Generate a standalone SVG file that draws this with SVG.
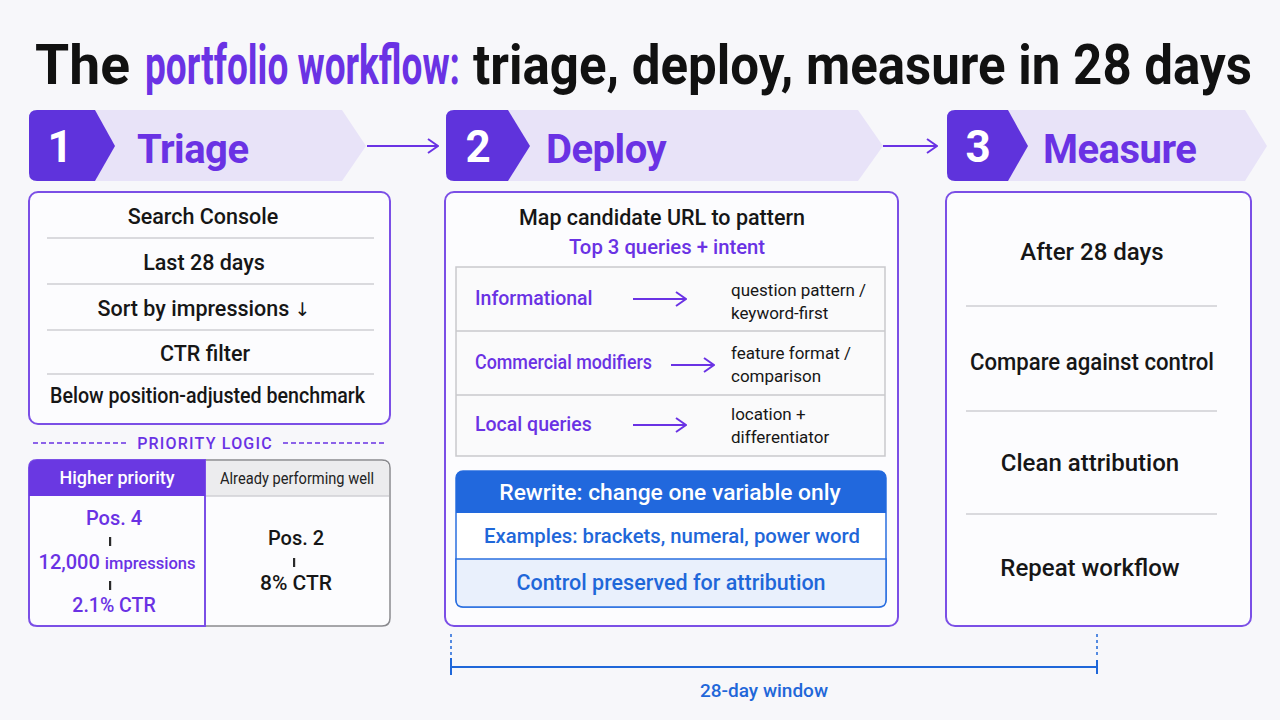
<svg xmlns="http://www.w3.org/2000/svg" width="1280" height="720" viewBox="0 0 1280 720">
<defs>
<style>
text{font-family:Roboto,"Liberation Sans",sans-serif}
.title{font-size:56px;font-weight:700;fill:#111}
.pur{fill:#6a32e4}
.num{font-size:44px;font-weight:700;fill:#fff}
.step{font-size:40px;font-weight:700;fill:#6a32e4;letter-spacing:-0.5px}
.dark{fill:#5f33dc}
.light{fill:#e8e3f8}
.box{fill:#fcfcfe;stroke:#7b4fe6;stroke-width:2}
.sep{stroke:#cfcfd3;stroke-width:1.5}
.t20{font-size:21.5px;font-weight:500;fill:#161616}
.t24{font-size:24px;font-weight:500;fill:#161616}
.arrow{stroke:#6a32e4;stroke-width:2;fill:none}
.blue{fill:#1f67d9}
.bar{fill:#2a2a2a}
</style>
<marker id="ah" viewBox="0 0 12 16" refX="11" refY="8" markerWidth="12" markerHeight="16" markerUnits="userSpaceOnUse" orient="auto">
<path d="M1,1 L11,8 L1,15" fill="none" stroke="#6a32e4" stroke-width="2"/>
</marker>
</defs>
<rect width="1280" height="720" fill="#f7f7fa"/>

<g id="title">
<text transform="translate(35,84) scale(0.9,1)" class="title" textLength="105.5" lengthAdjust="spacingAndGlyphs">The</text>
<text transform="translate(145,84) scale(0.75,1)" class="title pur" font-weight="800" textLength="420" lengthAdjust="spacingAndGlyphs">portfolio workflow:</text>
<text transform="translate(473,84) scale(0.9,1)" class="title" textLength="865.5" lengthAdjust="spacingAndGlyphs">triage, deploy, measure in 28 days</text>
</g>

<g id="step1">
<polygon class="light" points="90,110 342,110 366,146 342,181 90,181"/>
<path class="dark" d="M37,110 L95,110 L115,146 L95,181 L37,181 Q29,181 29,173 L29,118 Q29,110 37,110 Z"/>
<text x="60" y="162" text-anchor="middle" class="num">1</text>
<text x="137" y="163" class="step">Triage</text>
</g>
<g id="step2">
<polygon class="light" points="500,110 858,110 883,146 858,181 500,181"/>
<path class="dark" d="M454,110 L508,110 L530,146 L508,181 L454,181 Q446,181 446,173 L446,118 Q446,110 454,110 Z"/>
<text x="478" y="162" text-anchor="middle" class="num">2</text>
<text x="546" y="163" class="step">Deploy</text>
</g>
<g id="step3">
<polygon class="light" points="1000,110 1245,110 1267,146 1245,181 1000,181"/>
<path class="dark" d="M955,110 L1008,110 L1028,146 L1008,181 L955,181 Q947,181 947,173 L947,118 Q947,110 955,110 Z"/>
<text x="978" y="162" text-anchor="middle" class="num">3</text>
<text x="1043" y="163" class="step">Measure</text>
</g>

<g id="connectors">
<line x1="367" y1="146" x2="438" y2="146" class="arrow" marker-end="url(#ah)"/>
<line x1="883" y1="146" x2="937" y2="146" class="arrow" marker-end="url(#ah)"/>
</g>

<g id="triage-box">
<rect x="29" y="192" width="361" height="232" rx="9" class="box"/>
<line x1="47" y1="238" x2="374" y2="238" class="sep"/>
<line x1="47" y1="284" x2="374" y2="284" class="sep"/>
<line x1="47" y1="330" x2="374" y2="330" class="sep"/>
<line x1="47" y1="374" x2="374" y2="374" class="sep"/>
<text x="203" y="224" text-anchor="middle" class="t20">Search Console</text>
<text x="204" y="270" text-anchor="middle" class="t20">Last 28 days</text>
<text x="204" y="316" text-anchor="middle" class="t20">Sort by impressions <tspan font-family="'DejaVu Sans',sans-serif" font-weight="400" font-size="19">↓</tspan></text>
<text x="205" y="361" text-anchor="middle" class="t20">CTR filter</text>
<text x="50" y="403" class="t20" font-size="20" textLength="315" lengthAdjust="spacingAndGlyphs">Below position-adjusted benchmark</text>
</g>

<g id="priority-logic">
<line x1="33" y1="443" x2="128" y2="443" stroke="#6a32e4" stroke-width="1.5" stroke-dasharray="5,3"/>
<line x1="283" y1="443" x2="386" y2="443" stroke="#6a32e4" stroke-width="1.5" stroke-dasharray="5,3"/>
<text x="205" y="449" text-anchor="middle" font-size="16" font-weight="500" letter-spacing="1.2" class="pur">PRIORITY LOGIC</text>
</g>

<g id="priority-table">
<path d="M205,460 L382,460 Q390,460 390,468 L390,618 Q390,626 382,626 L205,626 Z" fill="#fcfcfe" stroke="#8a8a8e" stroke-width="1.5"/>
<path d="M206,461 L382,461 Q389,461 389,468 L389,496 L206,496 Z" fill="#ececee"/>
<line x1="206" y1="496" x2="389" y2="496" stroke="#d0d0d4" stroke-width="1.5"/>
<path d="M205,460 L37,460 Q29,460 29,468 L29,618 Q29,626 37,626 L205,626 Z" fill="#fcfcfe" stroke="#7b4fe6" stroke-width="2"/>
<path d="M205,460 L37,460 Q29,460 29,468 L29,496 L205,496 Z" fill="#6a38e2"/>
<text x="117" y="484" text-anchor="middle" font-size="18" font-weight="500" fill="#fff">Higher priority</text>
<text x="220" y="484" font-size="16" font-weight="400" fill="#222" textLength="154" lengthAdjust="spacingAndGlyphs">Already performing well</text>
<text x="114" y="525" text-anchor="middle" font-size="20" font-weight="500" class="pur">Pos. 4</text>
<rect x="109" y="537" width="2.2" height="9" class="bar"/>
<text x="117" y="569" text-anchor="middle" font-size="20" font-weight="500" class="pur">12,000 <tspan font-size="16.5">impressions</tspan></text>
<rect x="109" y="581" width="2.2" height="9" class="bar"/>
<text x="114" y="612" text-anchor="middle" font-size="19.5" font-weight="500" class="pur">2.1% CTR</text>
<text x="296" y="545" text-anchor="middle" font-size="20" font-weight="500" fill="#161616">Pos. 2</text>
<rect x="293" y="558" width="2.2" height="9" class="bar"/>
<text x="296" y="590" text-anchor="middle" font-size="21" font-weight="500" fill="#161616">8% CTR</text>
</g>

<g id="deploy-box">
<rect x="445" y="192" width="453" height="434" rx="9" class="box"/>
<text x="662" y="225" text-anchor="middle" font-size="21.5" font-weight="500" fill="#161616">Map candidate URL to pattern</text>
<text x="667" y="254" text-anchor="middle" font-size="20.3" font-weight="500" class="pur">Top 3 queries + intent</text>
<rect x="456" y="267" width="429" height="189" fill="#fafafb" stroke="#c9c9cd" stroke-width="1.5"/>
<line x1="456" y1="331" x2="885" y2="331" stroke="#c9c9cd" stroke-width="1.5"/>
<line x1="456" y1="395" x2="885" y2="395" stroke="#c9c9cd" stroke-width="1.5"/>
<text x="475" y="305" font-size="19.5" font-weight="500" class="pur">Informational</text>
<text x="475" y="369" font-size="19.5" font-weight="500" class="pur" textLength="177" lengthAdjust="spacingAndGlyphs">Commercial modifiers</text>
<text x="475" y="431" font-size="19.5" font-weight="500" class="pur">Local queries</text>
<text x="731" y="296" font-size="17" fill="#161616">question pattern /</text>
<text x="731" y="319" font-size="17" fill="#161616">keyword-first</text>
<text x="731" y="359" font-size="17" fill="#161616">feature format /</text>
<text x="731" y="382" font-size="17" fill="#161616">comparison</text>
<text x="731" y="420" font-size="17" fill="#161616">location +</text>
<text x="731" y="443" font-size="17" fill="#161616">differentiator</text>
</g>

<g id="row-arrows">
<line x1="633" y1="299" x2="686" y2="299" class="arrow" stroke-width="1.8" marker-end="url(#ah)"/>
<line x1="671" y1="365" x2="714" y2="365" class="arrow" stroke-width="1.8" marker-end="url(#ah)"/>
<line x1="633" y1="425" x2="686" y2="425" class="arrow" stroke-width="1.8" marker-end="url(#ah)"/>
</g>

<g id="rewrite-box">
<rect x="456" y="471" width="430" height="136" rx="7" fill="#fff" stroke="#2a6fe0" stroke-width="1.5"/>
<path d="M463,471 L879,471 Q886,471 886,478 L886,513 L456,513 L456,478 Q456,471 463,471 Z" fill="#2168dd"/>
<path d="M456,559 L886,559 L886,600 Q886,607 879,607 L463,607 Q456,607 456,600 Z" fill="#e9f0fc" stroke="#2a6fe0" stroke-width="1.5"/>
<text x="670" y="500" text-anchor="middle" font-size="22.8" font-weight="500" fill="#fff">Rewrite: change one variable only</text>
<text x="672" y="543" text-anchor="middle" font-size="20.3" font-weight="500" class="blue">Examples: brackets, numeral, power word</text>
<text x="671" y="590" text-anchor="middle" font-size="21.5" font-weight="500" class="blue">Control preserved for attribution</text>
</g>

<g id="measure-box">
<rect x="946" y="192" width="305" height="434" rx="9" class="box"/>
<line x1="966" y1="306" x2="1217" y2="306" class="sep"/>
<line x1="966" y1="411" x2="1217" y2="411" class="sep"/>
<line x1="966" y1="514" x2="1217" y2="514" class="sep"/>
<text x="1092" y="260" text-anchor="middle" class="t24">After 28 days</text>
<text x="970" y="370" class="t24" textLength="244" lengthAdjust="spacingAndGlyphs">Compare against control</text>
<text x="1090" y="471" text-anchor="middle" class="t24">Clean attribution</text>
<text x="1090" y="576" text-anchor="middle" class="t24">Repeat workflow</text>
</g>

<g id="timeline">
<line x1="451" y1="634" x2="451" y2="658" stroke="#1f67d9" stroke-width="1.5" stroke-dasharray="3,3"/>
<line x1="1097" y1="634" x2="1097" y2="658" stroke="#1f67d9" stroke-width="1.5" stroke-dasharray="3,3"/>
<line x1="451" y1="658" x2="451" y2="675" stroke="#1f67d9" stroke-width="2"/>
<line x1="1097" y1="660" x2="1097" y2="674" stroke="#1f67d9" stroke-width="2"/>
<line x1="451" y1="667" x2="1097" y2="667" stroke="#1f67d9" stroke-width="2"/>
<text x="764" y="697" text-anchor="middle" font-size="19" font-weight="500" class="blue">28-day window</text>
</g>
</svg>
